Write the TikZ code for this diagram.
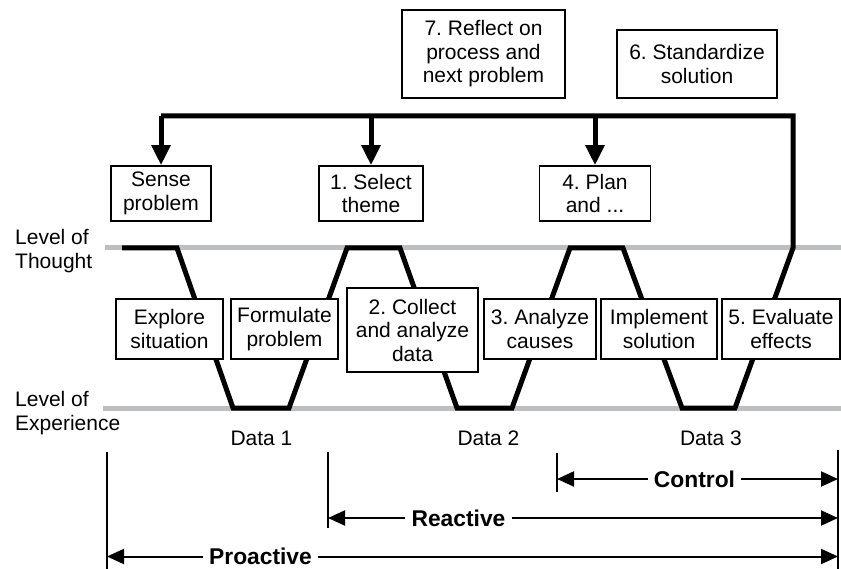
\documentclass[tikz,border=0pt]{standalone}
\usepackage{fontspec}
\setmainfont{Liberation Sans}
\usetikzlibrary{arrows.meta}
\definecolor{levelgray}{RGB}{188,190,192}
\frenchspacing
\begin{document}
\begin{tikzpicture}[x=1pt,y=-1pt,
  txt/.style={font=\fontsize{21}{23.5}\selectfont},
  stepbox/.style={txt, draw, line width=1.5pt, fill=white, align=center, inner sep=0pt},
  level/.style={draw=levelgray, line width=5pt},
  path line/.style={line width=5pt, miter limit=10},
  bus arrow/.style={line width=5pt, -{Triangle[width=18pt,length=20pt]}},
  spanlabel/.style={font=\fontsize{22.8}{25}\bfseries\selectfont, inner xsep=6pt, inner ysep=0pt},
  span arrow/.style={line width=2pt, -{Triangle[width=15pt,length=17pt]}},
  rule/.style={line width=2pt}]
\useasboundingbox (0,0) rectangle (841,569);

% levels
\coordinate (thoughtL) at (105,248);
\coordinate (thoughtR) at (841,248);
\coordinate (expL) at (103,408);
\coordinate (expR) at (841,408);
\draw[level] (thoughtL) -- (thoughtR);
\draw[level] (expL) -- (expR);
\node[txt, align=left, anchor=north west, inner sep=0pt] (lt) at (15,229.5) {Level of\\Thought};
\node[txt, align=left, anchor=north west, inner sep=0pt] (le) at (15,391.5) {Level of\\Experience};

% top boxes
\node[stepbox, minimum width=163pt, minimum height=88pt] (reflect) at (483.5,54) {7. Reflect on\\process and\\next problem};
\node[stepbox, minimum width=160pt, minimum height=68pt] (standard) at (697,64) {6. Standardize\\solution};

% the problem-solving path through thought and experience
\coordinate (top) at (793,116);
\draw[path line] (122,248) -- (177,248) -- (233,408) -- (289,408) -- (347,248) -- (400,248)
  -- (457,408) -- (512,408) -- (570,248) -- (623,248) -- (682,408) -- (735,408) -- (793,248)
  -- (top) -- (161,116);

% boxes on the thought level
\node[stepbox, minimum width=100pt, minimum height=55pt] (sense) at (161,193.5) {Sense\\problem};
\node[stepbox, minimum width=104pt, minimum height=55pt] (select) at (371,193.5) {1. Select\\theme};
\node[stepbox, minimum width=111pt, minimum height=55pt] (plan) at (595,193.5) {4. Plan\\and ...};

\draw[bus arrow] (sense.north |- top) -- (sense.north);
\draw[bus arrow] (select.north |- top) -- (select.north);
\draw[bus arrow] (plan.north |- top) -- (plan.north);

% boxes between the levels
\node[stepbox, minimum width=107pt, minimum height=60pt] (explore) at (169.5,329) {Explore\\situation};
\node[stepbox, minimum width=107pt, minimum height=60pt] (formulate) at (284.5,329) {Formulate\\problem};
\node[stepbox, minimum width=131pt, minimum height=84pt] (collect) at (412.5,330) {2. Collect\\and analyze\\data};
\node[stepbox, minimum width=112pt, minimum height=60pt] (analyze) at (540,329) {3. Analyze\\causes};
\node[stepbox, minimum width=116pt, minimum height=60pt] (implement) at (659,329) {Implement\\solution};
\node[stepbox, minimum width=118pt, minimum height=60pt] (evaluate) at (781,329) {5. Evaluate\\effects};

% data labels
\node[txt, anchor=base, inner sep=0pt] (d1) at (261.5,445.7) {Data 1};
\node[txt, anchor=base, inner sep=0pt] (d2) at (488.5,445.7) {Data 2};
\node[txt, anchor=base, inner sep=0pt] (d3) at (711,445.7) {Data 3};

% spans
\coordinate (vAt) at (107,452); \coordinate (vAb) at (107,569);
\coordinate (vBt) at (328,452); \coordinate (vBb) at (328,528);
\coordinate (vCt) at (557,453); \coordinate (vCb) at (557,492);
\coordinate (vDt) at (838,450); \coordinate (vDb) at (838,569);
\draw[rule] (vAt) -- (vAb);
\draw[rule] (vBt) -- (vBb);
\draw[rule] (vCt) -- (vCb);
\draw[rule] (vDt) -- (vDb);

\node[spanlabel] (ctl) at (694.5,479) {Control};
\draw[span arrow] (ctl.west) -- (ctl.west -| vCt);
\draw[span arrow] (ctl.east) -- (ctl.east -| vDt);

\node[spanlabel] (rea) at (458.5,518) {Reactive};
\draw[span arrow] (rea.west) -- (rea.west -| vBt);
\draw[span arrow] (rea.east) -- (rea.east -| vDt);

\node[spanlabel] (pro) at (260.5,556.5) {Proactive};
\draw[span arrow] (pro.west) -- (pro.west -| vAt);
\draw[span arrow] (pro.east) -- (pro.east -| vDt);
\end{tikzpicture}
\end{document}
